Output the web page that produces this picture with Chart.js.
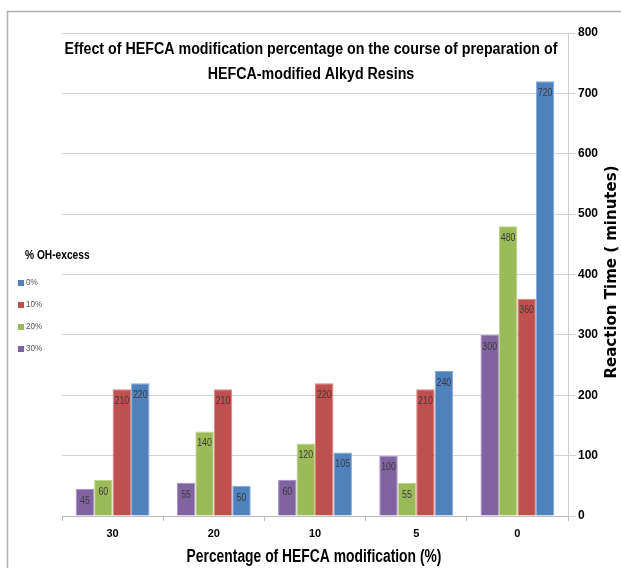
<!DOCTYPE html>
<html>
<head>
<meta charset="utf-8">
<script src="https://cdn.jsdelivr.net/npm/chart.js@4/dist/chart.umd.min.js"></script>
<style>
  html, body { margin: 0; padding: 0; background: #fff; }
  #wrap { width: 621px; height: 568px; position: relative; }
</style>
</head>
<body>
<div id="wrap"><canvas id="c" width="621" height="568"></canvas></div>
<script>
// HEFCA modification level (%) on the x axis
const categories = ['30', '20', '10', '5', '0'];

// Reaction time in minutes for each % OH-excess series
const ohExcess30 = [45, 55, 60, 100, 300];
const ohExcess20 = [60, 140, 120, 55, 480];
const ohExcess10 = [210, 210, 220, 210, 360];
const ohExcess0  = [220, 50, 105, 240, 720];

const seriesNames = ['30%', '20%', '10%', '0%'];
const seriesColors = ['#8064A2', '#9BBB59', '#C0504D', '#4F81BD'];
const seriesBorders = ['#a58fc2', '#bcd48c', '#d98583', '#86a9d6'];

const yTicks = [0, 100, 200, 300, 400, 500, 600, 700, 800];

const chartTitle = ['Effect of HEFCA modification percentage on the course of preparation of',
                    'HEFCA-modified Alkyd Resins'];
const xTitle = 'Percentage of HEFCA modification (%)';
const yTitle = 'Reaction Time ( minutes)';
const legendTitle = '% OH-excess';

const SANS = '"Liberation Sans", Arial, sans-serif';

const seriesValues = [ohExcess30, ohExcess20, ohExcess10, ohExcess0];
const datasets = seriesValues.map((vals, i) => ({
  label: seriesNames[i],
  data: vals,
  backgroundColor: seriesColors[i],
  borderColor: seriesBorders[i],
  borderWidth: 1,
  categoryPercentage: 0.73,
  barPercentage: 1.0
}));

// draw text squeezed horizontally, for a condensed look
function narrowText(ctx, text, x, y, squeeze) {
  ctx.save();
  ctx.translate(x, y);
  ctx.scale(squeeze, 1);
  ctx.fillText(text, 0, 0);
  ctx.restore();
}

// Outer frame, titles, legend and value labels
const decorations = {
  id: 'decorations',
  afterDraw(chart) {
    const ctx = chart.ctx;
    ctx.save();

    // frame
    ctx.strokeStyle = '#b0b0b0';
    ctx.lineWidth = 1.5;
    ctx.beginPath();
    ctx.moveTo(7.5, 568);
    ctx.lineTo(7.5, 11.5);
    ctx.lineTo(621, 11.5);
    ctx.stroke();

    // value labels inside bar tops
    ctx.fillStyle = '#3a3a3a';
    ctx.font = '10px ' + SANS;
    ctx.textAlign = 'center';
    ctx.textBaseline = 'middle';
    chart.data.datasets.forEach((ds, di) => {
      chart.getDatasetMeta(di).data.forEach((bar, i) => {
        narrowText(ctx, String(ds.data[i]), bar.x, bar.y + 12, 0.88);
      });
    });

    // chart title
    ctx.fillStyle = '#000';
    ctx.font = 'bold 16px ' + SANS;
    narrowText(ctx, chartTitle[0], 311, 50, 0.89);
    narrowText(ctx, chartTitle[1], 311, 75, 0.89);

    // x axis title
    ctx.font = 'bold 18px ' + SANS;
    narrowText(ctx, xTitle, 314, 557, 0.77);

    // y axis title (right side, reading upward)
    ctx.save();
    ctx.translate(612, 272);
    ctx.rotate(-Math.PI / 2);
    ctx.font = 'bold 15px "DejaVu Sans", sans-serif';
    ctx.fillText(yTitle, 0, 0);
    ctx.restore();

    // legend
    ctx.textAlign = 'left';
    ctx.font = 'bold 12px ' + SANS;
    ctx.fillStyle = '#000';
    narrowText(ctx, legendTitle, 25, 256, 0.85);
    ctx.font = '9px ' + SANS;
    const order = [3, 2, 1, 0];
    order.forEach((di, k) => {
      const y = 283 + k * 22;
      ctx.fillStyle = seriesColors[di];
      ctx.fillRect(18, y - 3, 6, 6);
      ctx.fillStyle = '#555';
      narrowText(ctx, seriesNames[di], 26, y, 0.9);
    });

    ctx.restore();
  }
};

new Chart(document.getElementById('c'), {
  type: 'bar',
  data: { labels: categories, datasets },
  options: {
    responsive: false,
    animation: false,
    devicePixelRatio: 1,
    layout: { padding: { left: 62, top: 33, right: 0, bottom: 0 } },
    plugins: {
      legend: { display: false },
      title: { display: false },
      tooltip: { enabled: false }
    },
    scales: {
      x: {
        grid: {
          offset: true,
          drawOnChartArea: false,
          drawTicks: true,
          tickLength: 5,
          color: '#bdbdbd'
        },
        border: { color: '#bdbdbd' },
        ticks: {
          color: '#000',
          font: { family: SANS, size: 11, weight: 'bold' },
          padding: 6
        },
        afterFit(scale) { scale.height = 52; }
      },
      y: {
        position: 'right',
        min: 0,
        max: 800,
        afterBuildTicks(scale) { scale.ticks = yTicks.map(v => ({ value: v })); },
        grid: {
          color: '#d4d4d4',
          tickLength: 8,
          drawTicks: true
        },
        border: { color: '#cfcfcf' },
        ticks: {
          color: '#000',
          font: { family: SANS, size: 12, weight: 'bold' },
          padding: 2
        },
        afterFit(scale) { scale.width = 53; }
      }
    }
  },
  plugins: [decorations]
});
</script>
</body>
</html>
